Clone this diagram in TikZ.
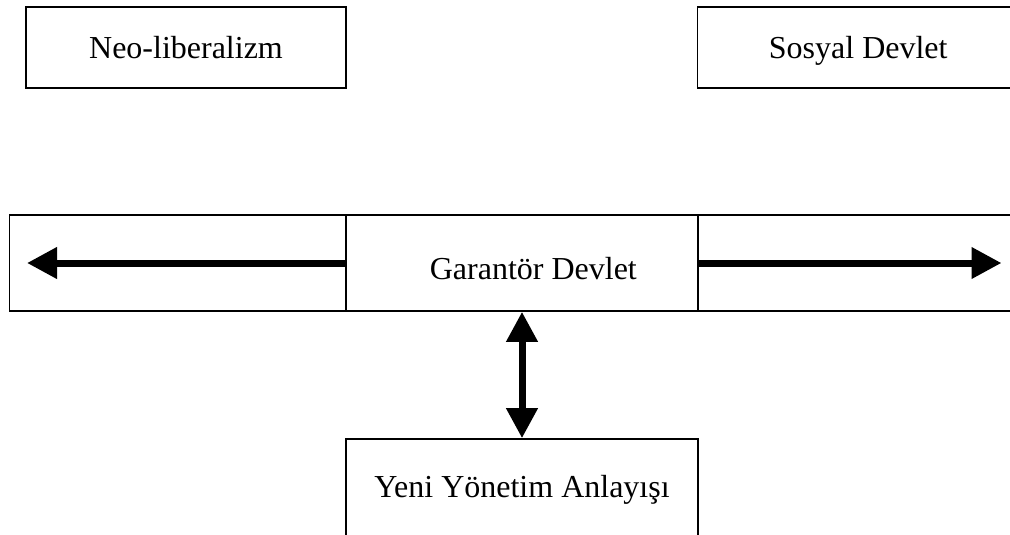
\documentclass[tikz,border=0pt]{standalone}
\usepackage{fontspec}
\setmainfont{Liberation Serif}
\usetikzlibrary{arrows.meta}
\tikzset{
  boxnode/.style={draw=black, line width=1.2pt, rectangle, inner sep=0pt,
    font=\fontsize{24}{28}\selectfont, align=center},
  bigarrow/.style={line width=5.25pt, -{Triangle[width=22.5pt,length=22.5pt]}},
  bigdarrow/.style={line width=5.25pt, {Triangle[width=22.5pt,length=22.5pt]}-{Triangle[width=22.5pt,length=22.5pt]}}
}
\begin{document}
\begin{tikzpicture}[x=0.75pt,y=-0.75pt]
\clip (0,0) rectangle (1010,535);
\fill[white] (0,0) rectangle (1010,535);
% top boxes
\node[boxnode, minimum width=320.5*0.75pt, minimum height=81*0.75pt, text height=22pt, text depth=6pt] (neo) at (186,47.5) {Neo-liberalizm};
\node[boxnode, minimum width=321.5*0.75pt, minimum height=81*0.75pt, text height=22pt, text depth=6pt] (sosyal) at (858.25,47.5) {Sosyal Devlet};
% long band
\node[boxnode, minimum width=336.5*0.75pt, minimum height=96*0.75pt] (left) at (177.75,263) {};
\node[boxnode, minimum width=352*0.75pt, minimum height=96*0.75pt, text height=30pt, text depth=6pt] (mid) at (522,263) {\hspace*{17pt}Garantör Devlet};
\node[boxnode, minimum width=322*0.75pt, minimum height=96*0.75pt] (right) at (859,263) {};
% bottom box
\node[boxnode, minimum width=352*0.75pt, minimum height=100*0.75pt, text height=18pt, text depth=6pt] (yeni) at (522,489) {Yeni Yönetim Anlayışı};
% arrow ends
\coordinate (lt) at (27,263);
\coordinate (rt) at (1001.5,263);
\draw[bigarrow] (mid.west) -- (lt);
\draw[bigarrow] (mid.east) -- (rt);
\draw[bigdarrow] (mid.south) -- (yeni.north);
\end{tikzpicture}
\end{document}
